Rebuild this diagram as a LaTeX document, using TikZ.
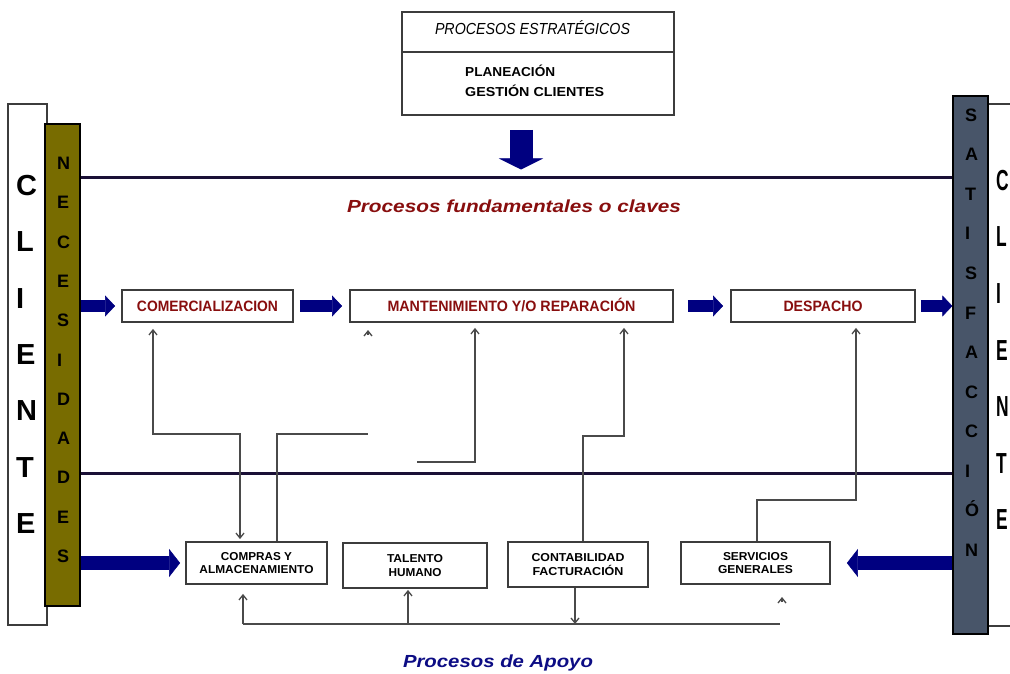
\documentclass[tikz,border=0pt]{standalone}
\usepackage{fontspec}
\setmainfont{Liberation Sans}
\usetikzlibrary{arrows.meta}
\definecolor{olivebar}{HTML}{786C00}
\definecolor{slatebar}{HTML}{485569}
\definecolor{keyred}{HTML}{880E0E}
\definecolor{apoyoblue}{HTML}{0C0C84}
\definecolor{bignavy}{HTML}{000080}
\definecolor{hlinec}{HTML}{1A1036}
\definecolor{connc}{HTML}{4A4A4A}
\definecolor{boxedge}{HTML}{3C3C3C}
\newcommand{\sqz}[2]{\resizebox{#1}{\height}{#2}}
\begin{document}
\begin{tikzpicture}[x=1pt,y=-1pt,
  procbox/.style={draw=boxedge, line width=1.8pt, fill=white, inner sep=0pt},
  keytext/.style={text=keyred, font=\fontsize{15}{15}\selectfont\bfseries, text height=10.9pt, text depth=0pt},
  suptext/.style={font=\fontsize{11.5}{13.5}\selectfont\bfseries, align=center},
  bigletter/.style={font=\fontsize{29}{29}\selectfont\bfseries, inner sep=0pt, anchor=base west},
  barletter/.style={font=\fontsize{18}{18}\selectfont\bfseries, inner sep=0pt, anchor=base west},
  conn/.style={draw=connc, line width=1.3pt},
  conntip/.style={-{Straight Barb[length=5pt,width=8pt]}},
  hline/.style={draw=hlinec, line width=3pt},
  bigarrow/.style={draw=bignavy, line width=12pt, -{Triangle[length=10pt,width=21pt,line width=0.5pt]}},
  bigarrowL/.style={draw=bignavy, line width=14pt, -{Triangle[length=11pt,width=28pt,line width=0.5pt]}},
  downarrow/.style={draw=bignavy, line width=23pt, -{Triangle[length=11pt,width=44pt,line width=0.5pt]}}
]
\useasboundingbox (0,0) rectangle (1010,674);
\clip (0,0) rectangle (1010,674);

% side bars
\node[draw=boxedge, line width=1.5pt, fill=white, minimum width=39pt, minimum height=521pt, inner sep=0pt] (clibarL) at (27.5,364.5) {};
\node[draw=black, line width=1.2pt, fill=olivebar, minimum width=35pt, minimum height=482pt, inner sep=0pt] (necbar) at (62.5,365) {};
\node[draw=boxedge, line width=1.5pt, fill=white, minimum width=42pt, minimum height=522pt, inner sep=0pt] (clibarR) at (1009,365) {};
\node[draw=black, line width=1.2pt, fill=slatebar, minimum width=35pt, minimum height=538pt, inner sep=0pt] (satbar) at (970.5,365) {};

\foreach \l [count=\i from 0] in {C,L,I,E,N,T,E}
  \node[bigletter] (cliL\i) at (16,{185+56.3*\i+10.5}) {\l};
\foreach \l [count=\i from 0] in {N,E,C,E,S,I,D,A,D,E,S}
  \node[barletter] (nec\i) at (57,{163+39.3*\i+6.5}) {\l};
\foreach \l [count=\i from 0] in {S,A,T,I,S,F,A,C,C,I,Ó,N}
  \node[barletter] (sat\i) at (965,{115+39.5*\i+6.5}) {\l};
\foreach \l [count=\i from 0] in {C,L,I,E,N,T,E}
  \node[bigletter] (cliR\i) at (996,{180+56.5*\i+10.5}) {\scalebox{0.6}[1]{\l}};

% strategic box
\node[procbox, minimum width=272pt, minimum height=40pt] (strat) at (538,32) {};
\node[procbox, minimum width=272pt, minimum height=63pt] (stratbody) at (538,83.5) {};
\node[font=\fontsize{16}{16}\selectfont\itshape, inner sep=0pt, anchor=base] (strattitle) at (532.5,35) {\sqz{195pt}{PROCESOS ESTRATÉGICOS}};
\node[anchor=base west, font=\fontsize{13}{13}\selectfont\bfseries, inner sep=0pt] (plan) at (465,77) {\sqz{90pt}{PLANEACIÓN}};
\node[anchor=base west, font=\fontsize{13}{13}\selectfont\bfseries, inner sep=0pt] (gest) at (465,96.5) {\sqz{139pt}{GESTIÓN CLIENTES}};

\coordinate (dtop) at (521,130);
\coordinate (dbot) at (521,169.5);
\draw[downarrow] (dtop) -- (dbot);

% horizontal lines
\draw[hline] (necbar.east |- 0,178) -- (satbar.west |- 0,178);
\draw[hline] (necbar.east |- 0,473.5) -- (satbar.west |- 0,473.5);

\node[font=\fontsize{17.5}{17.5}\selectfont\bfseries\itshape, text=keyred, anchor=base, inner sep=0pt] (keytitle) at (514,212) {\sqz{334pt}{Procesos fundamentales o claves}};

% key processes
\node[procbox, minimum width=171pt, minimum height=32pt, keytext] (com) at (207.5,306) {\sqz{141pt}{COMERCIALIZACION}};
\node[procbox, minimum width=323pt, minimum height=32pt, keytext] (mant) at (511.5,306) {\sqz{248pt}{MANTENIMIENTO Y/O REPARACIÓN}};
\node[procbox, minimum width=184pt, minimum height=32pt, keytext] (desp) at (823,306) {\sqz{79pt}{DESPACHO}};

% support processes
\node[procbox, minimum width=141pt, minimum height=42pt, suptext] (compras) at (256.5,563) {\sqz{71pt}{COMPRAS Y}\\\sqz{114pt}{ALMACENAMIENTO}};
\node[procbox, minimum width=144pt, minimum height=45pt, suptext] (talento) at (415,565.5) {\sqz{56pt}{TALENTO}\\\sqz{53pt}{HUMANO}};
\node[procbox, minimum width=140pt, minimum height=45pt, suptext] (conta) at (578,564.5) {\sqz{93pt}{CONTABILIDAD}\\\sqz{91pt}{FACTURACIÓN}};
\node[procbox, minimum width=149pt, minimum height=42pt, suptext] (serv) at (755.5,563) {\sqz{65pt}{SERVICIOS}\\\sqz{75pt}{GENERALES}};

% thin connectors
\draw[conn, {Straight Barb[length=5pt,width=8pt]}-{Straight Barb[length=5pt,width=8pt]}, shorten <=6pt, shorten >=2pt] (com.south -| 153,0) |- (240,434) -- (compras.north -| 240,0);
\coordinate (freeA) at (368,434);
\draw[conn] (compras.north -| 277,0) |- (freeA);
\coordinate (loneAa) at (368,335);
\coordinate (loneAb) at (368,330);
\draw[conn, conntip] (loneAa) -- (loneAb);
\coordinate (freeB) at (417,462);
\draw[conn, conntip, shorten >=5pt] (freeB) -| (mant.south -| 475,0);
\draw[conn, conntip, shorten >=5pt] (conta.north -| 583,0) |- (624,436) -- (mant.south -| 624,0);
\draw[conn, conntip, shorten >=5pt] (serv.north -| 757,0) |- (856,500) -- (desp.south -| 856,0);

\coordinate (busL) at (243,624);
\coordinate (busT) at (408,624);
\coordinate (busR) at (780,624);
\draw[conn] (busL) -- (busR);
\draw[conn, conntip, shorten >=9pt] (busL) -- (compras.south -| busL);
\draw[conn, conntip, shorten >=1pt] (busT) -- (talento.south -| busT);
\draw[conn, conntip] (conta.south -| 575,0) -- (busL -| 575,0);
\coordinate (loneBa) at (782,602);
\coordinate (loneBb) at (782,597);
\draw[conn, conntip] (loneBa) -- (loneBb);

% block arrows
\draw[bigarrow, shorten >=6pt] (necbar.east |- com.west) -- (com.west);
\draw[bigarrow, shorten <=6pt, shorten >=7pt] (com.east) -- (mant.west);
\draw[bigarrow, shorten <=14pt, shorten >=7pt] (mant.east) -- (desp.west);
\draw[bigarrow, shorten <=5pt] (desp.east) -- (satbar.west |- desp.east);
\draw[bigarrowL, shorten >=5pt] (necbar.east |- compras.west) -- (compras.west);
\draw[bigarrowL, shorten >=16pt] (satbar.west |- serv.east) -- (serv.east);

\node[font=\fontsize{17.5}{17.5}\selectfont\bfseries\itshape, text=apoyoblue, anchor=base, inner sep=0pt] (apoyo) at (498,667) {\sqz{190pt}{Procesos de Apoyo}};
\end{tikzpicture}
\end{document}
